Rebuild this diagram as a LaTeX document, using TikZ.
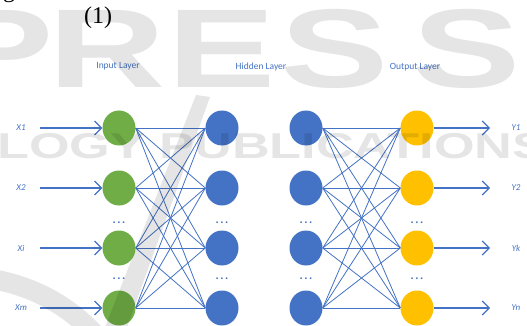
\documentclass[tikz,border=0pt]{standalone}
\usepackage{fontspec}
\setmainfont{Liberation Serif}
\newfontfamily\labelfont{Carlito}
\newfontfamily\markfont{Liberation Sans}
\usetikzlibrary{arrows.meta,shapes.geometric}

\definecolor{netblue}{HTML}{4472C4}
\definecolor{netgreen}{HTML}{70AD47}
\definecolor{netgold}{HTML}{FFC000}

\tikzset{
  neuron/.style={ellipse, minimum width=33pt, minimum height=35pt, inner sep=0pt},
  innode/.style={neuron, fill=netgreen},
  hidnode/.style={neuron, fill=netblue},
  outnode/.style={neuron, fill=netgold},
  link/.style={draw=netblue, line width=0.8pt},
  signal/.style={draw=netblue, line width=1.1pt,
    -{Straight Barb[length=7pt,width=14pt,line width=1.1pt]}},
  layertitle/.style={text=netblue, font=\labelfont\fontsize{9.5}{10}\selectfont},
  varlabel/.style={text=netblue, font=\labelfont\itshape\fontsize{9}{10}\selectfont},
  ellipsis/.style={text=netblue, anchor=base, inner sep=0pt,
    font=\labelfont\bfseries\fontsize{12}{12}\selectfont},
  wmark/.style={text=black, text opacity=0.1},
  bigmark/.style={wmark, xscale=1.45, font=\markfont\bfseries\fontsize{112}{112}\selectfont},
}
\newcommand{\vdotsrow}{.\kern1.6pt.\kern1.6pt.}

\begin{document}
\begin{tikzpicture}[x=1pt,y=-1pt]
\useasboundingbox (0,0) rectangle (527,326);
\fill[white] (0,0) rectangle (527,326);

% running text above the figure
\node[anchor=base, font=\fontsize{24}{26}\selectfont] (gtail) at (9,-2) {g};
\node[font=\fontsize{24}{26}\selectfont] (eqno) at (98,18) {(1)};

% layer titles
\node[layertitle] (tin)  at (118,66) {Input Layer};
\node[layertitle] (thid) at (261,67) {Hidden Layer};
\node[layertitle] (tout) at (415,67) {Output Layer};

% neurons
\foreach \r/\y in {1/128,2/188,3/248,4/308} {
  \node[innode]  (i\r) at (119,\y) {};
  \node[hidnode] (a\r) at (222,\y) {};
  \node[hidnode] (b\r) at (306,\y) {};
  \node[outnode] (o\r) at (417,\y) {};
}

% vertical ellipses between rows
\foreach \c/\x in {i/119,a/222,b/306,o/417} {
  \node[ellipsis] (\c dotsA) at (\x,223) {\vdotsrow};
  \node[ellipsis] (\c dotsB) at (\x,279) {\vdotsrow};
}

% full connections
\foreach \s in {1,2,3,4} {
  \foreach \t in {1,2,3,4} {
    \draw[link] (i\s.east) -- (a\t.west);
    \draw[link] (b\s.east) -- (o\t.west);
  }
}

% inputs and outputs
\foreach \r/\y/\xl/\yl in {1/128/X1/Y1,2/188/X2/Y2,3/248/Xi/Yk,4/308/Xm/Yn} {
  \coordinate (src\r) at (40,\y);
  \coordinate (dst\r) at (490,\y);
  \node[varlabel] (xl\r) at (21,\y) {\xl};
  \node[varlabel] (yl\r) at (516,\y) {\yl};
  \draw[signal] (src\r) -- (i\r.west);
  \draw[signal] (o\r.east) -- (dst\r);
}

% publisher watermark
\begin{scope}[black, opacity=0.1]
  \fill (196,95) -- (210,97) -- (126,330) -- (104,330) -- cycle;
  \draw[line width=20pt] (-15,278) .. controls (30,284) and (70,305) .. (100,340);
\end{scope}
\node[bigmark] (wmP) at (0,49) {P};
\node[bigmark] (wmR) at (107,49) {R};
\node[bigmark] (wmE) at (222,49) {E};
\node[bigmark] (wmS) at (335,49) {S};
\node[bigmark] (wmT) at (467,49) {S};
\node[wmark, font=\markfont\bfseries\fontsize{36}{36}\selectfont, xscale=1.45, anchor=base west] (wmL) at (-8,158) {LOGY PUBLICATIONS};
\end{tikzpicture}
\end{document}
